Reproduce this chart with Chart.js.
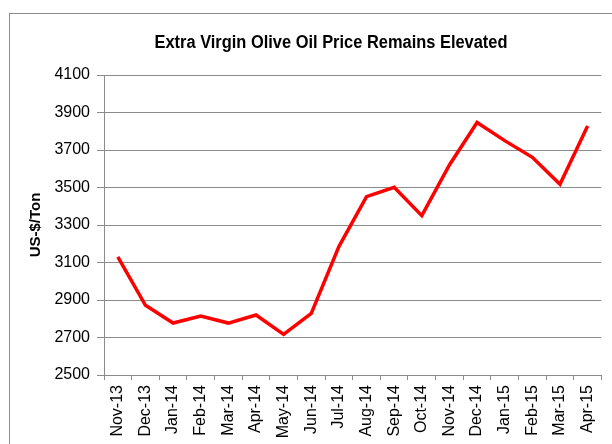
<!DOCTYPE html>
<html lang="en">
<head>
  <meta charset="UTF-8" />
  <title>olive oil price</title>
  <script src="https://cdn.jsdelivr.net/npm/chart.js@4"></script>
  <style>
    body { margin: 0; overflow: hidden; background: #fff; font-family: 'Liberation Sans', Arial, sans-serif; }
    #frame { position: absolute; left: 9px; top: 13px; width: 700px; height: 500px; border: 1px solid #8c8c8c; }
    #wrap { position: absolute; left: 0; top: 0; width: 612px; height: 444px; }
  </style>
</head>
<body>
  <div id="frame"></div>
  <div id="wrap"><canvas id="myChart"></canvas></div>

  <script>
    // values
    const months = ['Nov-13', 'Dec-13', 'Jan-14', 'Feb-14', 'Mar-14', 'Apr-14', 'May-14', 'Jun-14', 'Jul-14',
      'Aug-14', 'Sep-14', 'Oct-14', 'Nov-14', 'Dec-14', 'Jan-15', 'Feb-15', 'Mar-15', 'Apr-15'];
    const prices = [3130, 2872, 2777, 2815, 2777, 2820, 2717, 2829, 3185,
      3451, 3501, 3350, 3620, 3847, 3750, 3661, 3517, 3828];
    const yTicks = [2500, 2700, 2900, 3100, 3300, 3500, 3700, 3900, 4100];
    const chartTitle = 'Extra Virgin Olive Oil Price Remains Elevated';

    // title is centred on the outer frame, not the plot, so draw it by hand
    const titlePlugin = {
      id: 'fixedTitle',
      afterDraw(chart) {
        const ctx = chart.ctx;
        ctx.save();
        ctx.font = 'bold 18px "Liberation Sans", Arial, sans-serif';
        ctx.fillStyle = '#000';
        ctx.textAlign = 'center';
        ctx.textBaseline = 'middle';
        ctx.fillText(chartTitle, 331, 43, 353);
        ctx.restore();
      }
    };

    const ctx = document.getElementById('myChart').getContext('2d');
    new Chart(ctx, {
      type: 'line',
      data: {
        labels: months,
        datasets: [{
          data: prices,
          borderColor: '#ff0000',
          borderWidth: 3.5,
          pointRadius: 0,
          fill: false,
          tension: 0
        }]
      },
      options: {
        responsive: true,
        maintainAspectRatio: false,
        animation: false,
        layout: { padding: { left: 0, right: 7, top: 75, bottom: 0 } },
        plugins: { legend: { display: false }, tooltip: { enabled: false } },
        scales: {
          x: {
            offset: true,
            grid: { offset: true, drawOnChartArea: false, drawTicks: true, tickLength: 5, color: '#8c8c8c' },
            border: { color: '#8c8c8c' },
            ticks: {
              minRotation: 90, maxRotation: 90, autoSkip: false, padding: 5,
              color: '#000', font: { family: '"Liberation Sans", Arial, sans-serif', size: 16 }
            },
            afterFit(s) { s.height = 69; }
          },
          y: {
            min: 2500,
            max: 4100,
            afterBuildTicks(s) { s.ticks = yTicks.map(v => ({ value: v })); },
            grid: { color: '#8c8c8c', tickLength: 7 },
            border: { color: '#8c8c8c' },
            ticks: {
              padding: 7, color: '#000',
              callback: v => String(v),
              font: { family: '"Liberation Sans", Arial, sans-serif', size: 16 }
            },
            title: {
              display: true,
              text: 'US-$/Ton',
              color: '#000',
              padding: { top: 27, bottom: 0 },
              font: { family: '"Liberation Sans", Arial, sans-serif', size: 15, weight: 'bold' }
            },
            afterFit(s) { s.width = 104; }
          }
        }
      },
      plugins: [titlePlugin]
    });
  </script>
</body>
</html>
